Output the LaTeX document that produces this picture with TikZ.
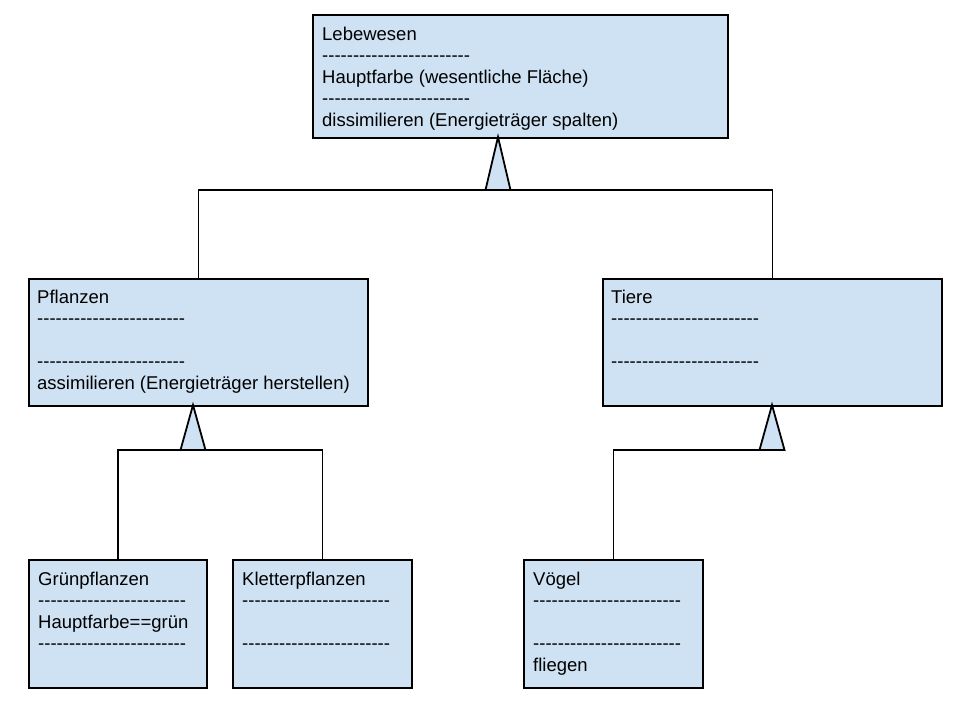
\documentclass[tikz,border=0pt]{standalone}
\usepackage{fontspec}
\setmainfont{Liberation Sans}
\definecolor{boxblue}{HTML}{CFE2F3}
\tikzset{
  umlbox/.style={draw=black, fill=boxblue, line width=1.8pt, rectangle, inner sep=0pt, anchor=north west},
  umltext/.style={anchor=base west, inner sep=0pt, font=\fontsize{18.5}{21.5}\selectfont},
  conn/.style={draw=black, line width=1.8pt},
  inherit/.style={draw=black, fill=boxblue, line width=1.8pt, line join=miter},
}
\newcommand{\hy}{-\kern0pt}
\newcommand{\hyfour}{\hy\hy\hy\hy}
\newcommand{\dsh}{\hyfour\hyfour\hyfour\hyfour\hyfour\hyfour}
\newcommand{\lines}[1]{\begin{tabular}[t]{@{}l@{}}#1\end{tabular}}
\begin{document}
\begin{tikzpicture}[x=1pt,y=-1pt]
\useasboundingbox (0,0) rectangle (960,720);
% boxes
\node[umlbox, minimum width=415pt, minimum height=123pt] (leb) at (312,14) {};
\node[umlbox, minimum width=339pt, minimum height=127pt] (pfl) at (28,278) {};
\node[umlbox, minimum width=339pt, minimum height=127pt] (tie) at (602,278) {};
\node[umlbox, minimum width=178pt, minimum height=128pt] (gru) at (28,559) {};
\node[umlbox, minimum width=179pt, minimum height=128pt] (kle) at (232,559) {};
\node[umlbox, minimum width=179pt, minimum height=128pt] (voe) at (523,559) {};
% texts
\node[umltext] (lebt) at (322,40) {\lines{Lebewesen\\\dsh\\Hauptfarbe (wesentliche Fläche)\\\dsh\\dissimilieren (Energieträger spalten)}};
\node[umltext] (pflt) at (37,303) {\lines{Pflanzen\\\dsh\\\\\dsh\\assimilieren (Energieträger herstellen)}};
\node[umltext] (tiet) at (611,303) {\lines{Tiere\\\dsh\\\\\dsh}};
\node[umltext] (grut) at (38,585) {\lines{Grünpflanzen\\\dsh\\Hauptfarbe==grün\\\dsh}};
\node[umltext] (klet) at (242,585) {\lines{Kletterpflanzen\\\dsh\\\\\dsh}};
\node[umltext] (voet) at (533,585) {\lines{Vögel\\\dsh\\\\\dsh\\fliegen}};
% junctions
\coordinate (hub1) at (498,190);
\coordinate (hub2) at (193,450);
\coordinate (hub3) at (772,450);
% connectors
\draw[conn] (pfl.north) |- (hub1) -| (tie.north);
\draw[conn] (gru.north) |- (hub2) -| (kle.north);
\draw[conn] (voe.north) |- (hub3);
% inheritance triangles
\filldraw[inherit] (498,137) coordinate (tip1) -- ++(-12.5,53) -- ++(25,0) -- cycle;
\filldraw[inherit] (193,405) coordinate (tip2) -- ++(-12.5,45) -- ++(25,0) -- cycle;
\filldraw[inherit] (772,405) coordinate (tip3) -- ++(-12.5,45) -- ++(25,0) -- cycle;
\end{tikzpicture}
\end{document}
